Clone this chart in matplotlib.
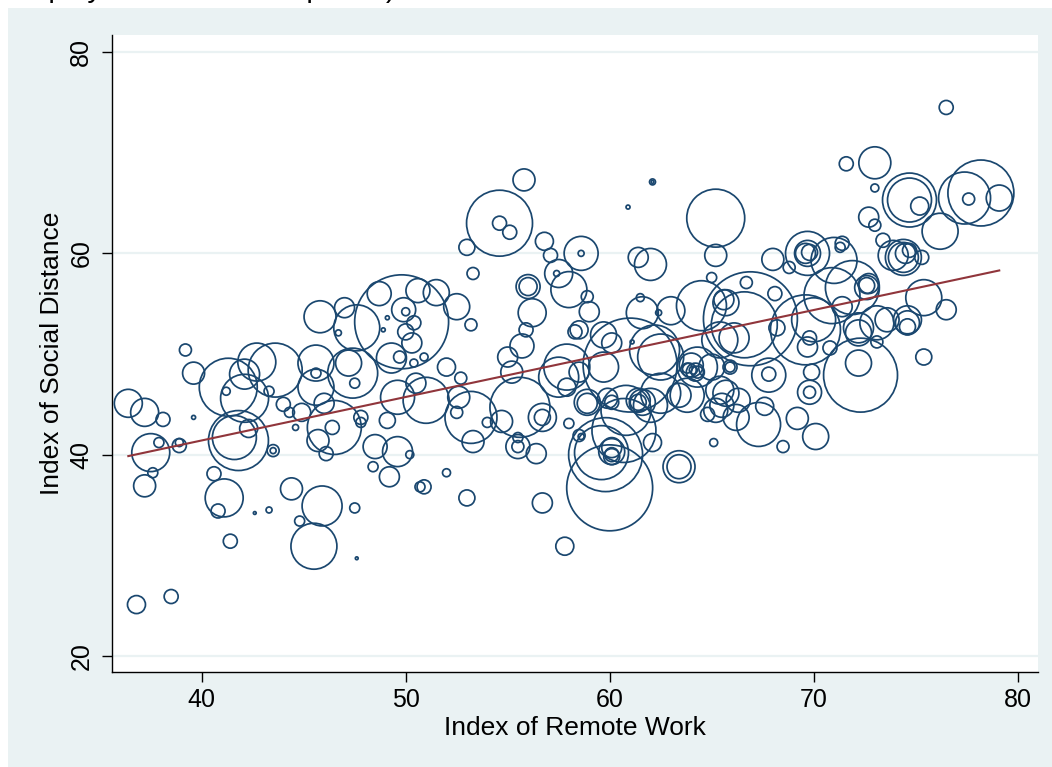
import numpy as np
import matplotlib.pyplot as plt
from matplotlib.patches import Rectangle

plt.rcParams['font.family'] = ['Liberation Sans', 'DejaVu Sans']

# occupations: remote work index, social distance index, employment (thousands)
remote_idx = [
    36.4, 37.2, 38.1, 39.2, 39.6, 39.6, 37.5, 37.9, 38.9, 38.9, 37.6, 37.2, 36.8, 38.5,
    41.3, 42.1, 42.7, 43.6, 42.1, 41.2, 43.3, 41.8, 41.6, 42.3, 43.5, 43.5, 44.0, 44.3,
    44.9, 44.6, 40.6, 41.1, 40.8, 41.4, 42.6, 43.3, 44.4,
    45.9, 45.5, 44.8, 47.5, 47.6, 45.6, 45.6, 45.6, 46.0, 46.5, 46.4, 45.7, 46.1, 47.4,
    47.2, 47.5, 45.8, 47.0, 46.7, 47.6, 48.7, 49.8, 49.9, 50.0, 50.3, 50.0, 50.4, 49.3,
    49.7, 50.9, 50.4, 49.1, 48.9, 50.6, 51.5, 49.6, 50.5, 51.0, 48.5, 49.6, 50.2, 48.4,
    49.2, 50.7, 49.1, 47.8, 47.8,
    52.5, 53.2, 52.0, 52.7, 53.2, 52.6, 52.5, 54.0, 53.3, 54.7, 55.6, 55.5, 55.5, 55.5,
    56.4, 56.7, 56.7, 50.9, 52.0, 53.0, 56.7, 57.8, 54.6, 54.6, 55.1, 53.0, 53.3, 55.8,
    56.8, 57.1, 58.6, 58.6, 57.5, 57.4, 58.0, 58.9, 59.0, 56.0, 56.0, 56.2, 55.9, 55.7,
    55.0, 55.2, 58.3, 58.5, 59.7, 57.9, 57.5, 57.9, 58.5, 58.0, 58.6, 58.5, 58.9, 58.9,
    59.8, 60.0, 59.6, 60.1, 60.1, 60.1, 60.7, 60.8, 62.1, 62.0, 61.4, 61.4, 60.1, 59.9,
    62.5, 63.8, 63.4, 63.4, 65.1, 64.8, 60.1, 61.0, 62.2, 62.5, 61.1, 59.7, 60.1, 61.4,
    62.0, 61.5, 61.6, 63.0, 62.4, 64.5, 65.2, 65.2, 65.0, 62.1, 62.1, 60.9, 61.6, 63.4,
    63.9, 63.8, 64.2, 64.3, 64.0, 65.9, 65.9, 65.4, 65.6, 65.7, 66.1, 65.7, 65.5, 65.4,
    65.0, 65.2, 64.1, 64.3,
    66.9, 66.6, 66.7, 68.1, 68.0, 68.8, 69.7, 69.7, 69.8, 69.6, 71.0, 71.4, 71.3, 71.6,
    73.0, 73.0, 74.7, 74.7, 75.2, 76.2, 77.4, 78.2, 77.6, 79.1, 76.5, 72.7, 73.0, 73.4,
    74.4, 74.4, 74.5, 75.3, 74.7, 73.9, 75.4, 76.5, 75.4, 72.3, 72.2, 71.9, 70.9, 72.6,
    72.6, 73.1, 72.2, 71.4, 73.6, 74.6, 74.6, 74.6, 69.7, 69.8, 69.6, 70.0, 68.2, 67.8,
    67.8, 69.8, 69.8, 69.9, 70.8, 73.1, 72.2, 67.3, 67.6, 69.2, 70.1, 68.5, 66.2, 66.3,
    72.7,
]
social_idx = [
    45.1, 44.2, 43.5, 50.4, 48.1, 43.7, 40.2, 41.2, 40.9, 41.2, 38.2, 36.9, 25.1, 25.9,
    46.7, 45.6, 49.2, 48.4, 48.0, 46.3, 46.3, 41.4, 41.7, 42.6, 40.4, 40.4, 45.0, 44.2,
    44.2, 42.7, 38.1, 35.7, 34.4, 31.4, 34.2, 34.5, 36.6,
    34.9, 30.9, 33.4, 34.7, 29.7, 49.1, 48.1, 46.7, 45.1, 42.7, 42.7, 41.4, 40.1, 48.1,
    49.1, 47.1, 53.7, 54.6, 52.1, 52.6, 56.0, 53.2, 54.4, 54.2, 51.1, 52.2, 53.1, 49.6,
    49.7, 49.7, 49.1, 53.6, 52.4, 56.3, 56.1, 45.7, 47.1, 45.4, 40.8, 40.3, 40.0, 38.8,
    37.8, 36.8, 43.4, 43.7, 43.2,
    54.7, 52.9, 48.7, 47.6, 43.7, 45.7, 44.2, 43.2, 41.3, 43.3, 44.7, 40.8, 40.8, 41.7,
    40.1, 43.7, 43.7, 36.8, 38.2, 35.7, 35.2, 30.9, 63.0, 63.0, 62.1, 60.6, 58.0, 67.3,
    61.2, 59.8, 60.0, 60.0, 58.0, 58.0, 56.4, 55.7, 54.2, 56.7, 56.7, 54.1, 52.4, 50.8,
    49.7, 48.2, 52.2, 52.4, 51.9, 48.7, 47.7, 46.7, 48.2, 43.1, 41.8, 41.9, 45.2, 45.1,
    40.0, 36.7, 40.2, 40.3, 40.0, 40.7, 42.4, 44.4, 41.2, 44.9, 45.4, 45.2, 45.2, 45.6,
    46.1, 45.9, 38.8, 38.8, 41.2, 44.0, 39.8, 48.9, 50.4, 49.7, 51.2, 48.7, 51.1, 59.6,
    58.9, 55.6, 54.1, 54.3, 54.1, 54.8, 63.5, 59.8, 57.6, 67.1, 67.1, 64.6, 45.2, 45.9,
    48.4, 48.6, 48.2, 48.7, 48.9, 48.7, 48.7, 51.4, 55.4, 55.1, 51.6, 46.1, 44.9, 46.4,
    48.7, 44.4, 48.4, 48.2,
    53.5, 52.9, 57.1, 56.0, 59.4, 58.6, 60.0, 60.0, 60.1, 60.0, 59.3, 61.0, 60.6, 68.9,
    69.0, 66.5, 65.3, 65.3, 64.7, 62.2, 65.5, 66.0, 65.4, 65.5, 74.5, 63.6, 62.8, 61.3,
    59.6, 59.6, 60.0, 59.6, 60.3, 59.8, 55.6, 54.4, 49.7, 47.9, 49.1, 56.6, 55.8, 56.6,
    56.8, 53.1, 52.6, 54.7, 53.4, 53.4, 53.1, 52.7, 50.7, 51.6, 52.4, 53.4, 52.6, 47.9,
    48.0, 46.2, 46.2, 48.2, 50.6, 51.2, 52.1, 43.0, 44.8, 43.6, 41.8, 40.8, 43.7, 45.4,
    57.0,
]
employment = [
    196, 196, 49, 36, 121, 4, 361, 25, 49, 16, 25, 121, 81, 49,
    841, 576, 361, 729, 225, 16, 25, 900, 484, 81, 36, 9, 49, 25,
    81, 9, 49, 361, 49, 49, 2, 9, 121,
    400, 529, 25, 25, 2, 324, 25, 324, 100, 729, 49, 121, 49, 625,
    169, 25, 256, 100, 9, 529, 144, 2209, 144, 16, 100, 64, 49, 225,
    36, 16, 16, 4, 4, 144, 169, 289, 100, 529, 144, 225, 16, 25,
    100, 25, 64, 49, 25,
    169, 36, 81, 36, 676, 121, 36, 25, 121, 121, 900, 144, 36, 25,
    100, 196, 64, 49, 16, 64, 100, 81, 1089, 49, 49, 64, 36, 121,
    81, 49, 289, 9, 196, 9, 324, 36, 100, 144, 81, 196, 49, 144,
    100, 121, 49, 81, 169, 529, 400, 81, 100, 25, 9, 36, 169, 100,
    1369, 1849, 729, 169, 49, 100, 1024, 625, 81, 289, 144, 64, 49, 100,
    400, 289, 256, 144, 16, 49, 64, 2209, 625, 529, 4, 225, 100, 100,
    256, 16, 256, 196, 9, 625, 841, 121, 25, 9, 2, 4, 169, 144,
    49, 25, 81, 400, 144, 25, 49, 324, 100, 169, 225, 169, 144, 196,
    169, 144, 16, 36,
    2209, 1089, 36, 49, 121, 36, 484, 169, 64, 100, 529, 49, 25, 49,
    256, 16, 729, 484, 81, 324, 676, 1089, 36, 169, 49, 100, 36, 49,
    324, 225, 100, 49, 49, 225, 324, 100, 64, 1369, 169, 729, 784, 144,
    64, 289, 225, 100, 144, 196, 144, 64, 100, 49, 1225, 484, 64, 289,
    49, 144, 36, 64, 49, 36, 169, 484, 81, 121, 169, 36, 169, 144,
    100,
]

# linear fit of social distance on remote work
fit_slope = 0.432
fit_const = 24.13

navy = '#1A476F'
maroon = '#90353B'
bg = '#EAF2F3'

fig = plt.figure(figsize=(10.52, 7.67), dpi=100)
fig.patches.append(Rectangle((8 / 1052, 0), 1, 1 - 8 / 767, transform=fig.transFigure,
                             facecolor=bg, edgecolor='none', zorder=-10))
# tail of the note line above the graph region
fig.text(396 / 1052, 1 + 3 / 767, 'employed in each occupation)', ha='right', va='baseline',
         fontsize=21)

ax = fig.add_axes([112 / 1052, 1 - 672 / 767, (1038 - 112) / 1052, (672 - 35) / 767])
ax.set_facecolor('white')

sizes = np.array(employment) * 2.07
ax.scatter(remote_idx, social_idx, s=sizes, facecolors='none', edgecolors=navy,
           linewidths=1.25, zorder=3)

xs = np.array([min(remote_idx), max(remote_idx)])
ax.plot(xs, fit_const + fit_slope * xs, color=maroon, lw=1.5, zorder=4)

ax.set_xlim(35.6, 81.0)
ax.set_ylim(18.4, 81.7)
ax.set_xticks([40, 50, 60, 70, 80])
ax.set_yticks([20, 40, 60, 80])
ax.grid(axis='y', color=bg, lw=1.6)
ax.set_axisbelow(True)

for side in ['top', 'right']:
    ax.spines[side].set_visible(False)
ax.spines['left'].set_linewidth(1)
ax.spines['bottom'].set_linewidth(1)

ax.tick_params(axis='both', direction='out', length=7.5, width=1, labelsize=18)
ax.tick_params(axis='x', pad=4)
ax.tick_params(axis='y', pad=6)
for lab in ax.get_yticklabels():
    lab.set_rotation(90)
    lab.set_va('center')

ax.set_xlabel('Index of Remote Work', fontsize=19, labelpad=3)
ax.set_ylabel('Index of Social Distance', fontsize=19, labelpad=4)

fig.savefig('out.png', dpi=100)
